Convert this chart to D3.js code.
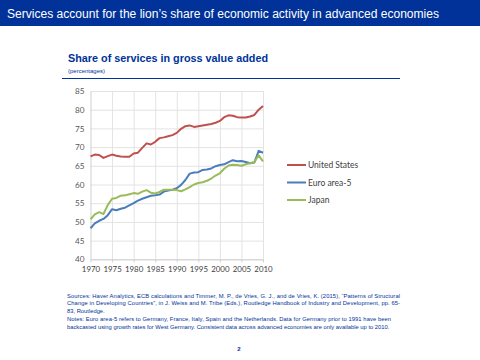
<!DOCTYPE html>
<html><head><meta charset="utf-8">
<script src="https://cdn.jsdelivr.net/npm/d3@7"></script>
<style>body{margin:0;background:#fff}svg{display:block}</style>
</head><body>
<script>
const years = d3.range(1970, 2011);
const unitedStates = [67.5,68.0,67.9,67.1,67.6,68.0,67.7,67.5,67.4,67.4,68.3,68.5,69.8,71.0,70.7,71.4,72.4,72.6,72.9,73.2,73.8,74.9,75.6,75.8,75.4,75.6,75.8,76.0,76.2,76.5,77.0,78.0,78.5,78.4,78.0,77.9,77.9,78.2,78.6,80.0,81.0];
const euroArea5 = [48.3,49.6,50.3,50.8,51.8,53.4,53.1,53.5,53.8,54.4,55.0,55.7,56.2,56.6,57.0,57.1,57.3,58.1,58.4,58.6,59.0,59.9,61.2,62.9,63.2,63.3,63.9,64.0,64.3,64.9,65.2,65.4,66.0,66.5,66.2,66.3,66.0,65.7,65.9,69.0,68.5];
const japan = [50.7,52.0,52.6,52.1,54.5,56.2,56.4,57.0,57.1,57.4,57.7,57.5,58.1,58.5,57.8,57.6,58.0,58.6,58.6,58.6,58.5,58.2,58.7,59.3,60.0,60.4,60.6,61.0,61.6,62.4,63.0,64.2,65.1,65.3,65.2,65.0,65.4,65.7,66.0,67.8,66.2];
const seriesNames = ["United States","Euro area-5","Japan"];
const seriesColors = ["#C0504D","#4A7EBB","#9BBB59"];
const yTicks = [40,45,50,55,60,65,70,75,80,85];
const xTicks = [1970,1975,1980,1985,1990,1995,2000,2005,2010];

const svg = d3.select("body").append("svg").attr("width",480).attr("height",360);
const blue = "#003299";

svg.append("rect").attr("x",0).attr("y",0).attr("width",480).attr("height",26).attr("fill",blue);
svg.append("text").attr("x",7).attr("y",18).attr("fill","#fff")
  .style("font-family","Liberation Sans, Arial, sans-serif").style("font-size","12.5px")
  .attr("textLength",432).attr("lengthAdjust","spacingAndGlyphs")
  .text("Services account for the lion\u2019s share of economic activity in advanced economies");

svg.append("text").attr("x",68).attr("y",62).attr("fill",blue)
  .style("font-family","Liberation Sans, Arial, sans-serif").style("font-size","11px").style("font-weight","bold")
  .attr("textLength",200).attr("lengthAdjust","spacingAndGlyphs")
  .text("Share of services in gross value added");
svg.append("text").attr("x",68).attr("y",73).attr("fill",blue)
  .style("font-family","Liberation Sans, Arial, sans-serif").style("font-size","6px")
  .text("(percentages)");
svg.append("line").attr("x1",62).attr("x2",400).attr("y1",78.5).attr("y2",78.5).attr("stroke",blue).attr("stroke-width",1);

const x = d3.scaleLinear().domain([1970,2010]).range([90.5,263]);
const y = d3.scaleLinear().domain([40,85]).range([259.3,91]);

// gridlines
svg.append("g").attr("transform","translate(90.5,0)")
  .call(d3.axisLeft(y).tickValues(yTicks).tickSize(-172.5).tickFormat(""))
  .call(g=>{g.select(".domain").remove();g.selectAll("line").attr("stroke","#e3e3e3");});
svg.append("g").attr("transform","translate(0,259.3)")
  .call(d3.axisBottom(x).tickValues(xTicks.slice(1)).tickSize(-168.3).tickFormat(""))
  .call(g=>{g.select(".domain").remove();g.selectAll("line").attr("stroke","#e3e3e3");});

// y axis
svg.append("g").attr("transform","translate(90.5,0)")
  .call(d3.axisLeft(y).tickValues(yTicks).tickSize(0).tickPadding(6))
  .call(g=>{g.select(".domain").attr("stroke","#d0d0d0");
    g.selectAll("text").attr("fill","#595959").style("font-family","Lato, sans-serif").style("font-size","8.2px");});
// x axis
svg.append("g").attr("transform","translate(0,259.3)")
  .call(d3.axisBottom(x).tickValues(xTicks).tickFormat(d3.format("d")).tickSizeInner(3).tickSizeOuter(0).tickPadding(4))
  .call(g=>{g.select(".domain").attr("stroke","#d0d0d0");g.selectAll("line").attr("stroke","#d0d0d0");
    g.selectAll("text").attr("fill","#404040").style("font-family","Lato, sans-serif").style("font-size","7.9px");});

const allSeries = [unitedStates, euroArea5, japan];
const line = d3.line().x((d,i)=>x(years[i])).y(d=>y(d));
allSeries.forEach((s,k)=>{
  svg.append("path").datum(s).attr("d",line).attr("fill","none")
    .attr("stroke",seriesColors[k]).attr("stroke-width",2).attr("stroke-linejoin","round");
});

// legend
const leg = svg.append("g");
seriesNames.forEach((n,k)=>{
  const ly = 165 + k*17.5;
  leg.append("line").attr("x1",287).attr("x2",306).attr("y1",ly).attr("y2",ly).attr("stroke",seriesColors[k]).attr("stroke-width",2);
  leg.append("text").attr("x",308).attr("y",ly+3).attr("fill","#404040")
    .style("font-family","Lato, sans-serif").style("font-size","8.5px").text(n);
});

// footer
const foot = svg.append("g").attr("fill",blue).style("font-family","Liberation Sans, Arial, sans-serif").style("font-size","5.8px");
const footLines = [
 ["Sources: Haver Analytics, ECB calculations and Timmer, M. P., de Vries, G. J., and de Vries, K. (2015), \u201cPatterns of Structural",297.5,true],
 ["Change in Developing Countries\u201d, in J. Weiss and M. Tribe (Eds.), Routledge Handbook of Industry and Development, pp. 65-",305,true],
 ["83, Routledge.",312.5,false],
 ["Notes: Euro area-5 refers to Germany, France, Italy, Spain and the Netherlands. Data for Germany prior to 1991 have been",321,true],
 ["backcasted using growth rates for West Germany. Consistent data across advanced economies are only available up to 2010.",328.5,false]
];
footLines.forEach(([t,yy,j])=>{
  const tx = foot.append("text").attr("x",67).attr("y",yy).text(t);
  if (j) tx.attr("textLength", yy===321 ? 324 : 333).attr("lengthAdjust","spacing");
});
svg.append("text").attr("x",239).attr("y",351).attr("fill",blue).attr("text-anchor","middle")
  .style("font-family","Liberation Sans, Arial, sans-serif").style("font-size","6px").style("font-weight","bold").text("2");
</script>
</body></html>
